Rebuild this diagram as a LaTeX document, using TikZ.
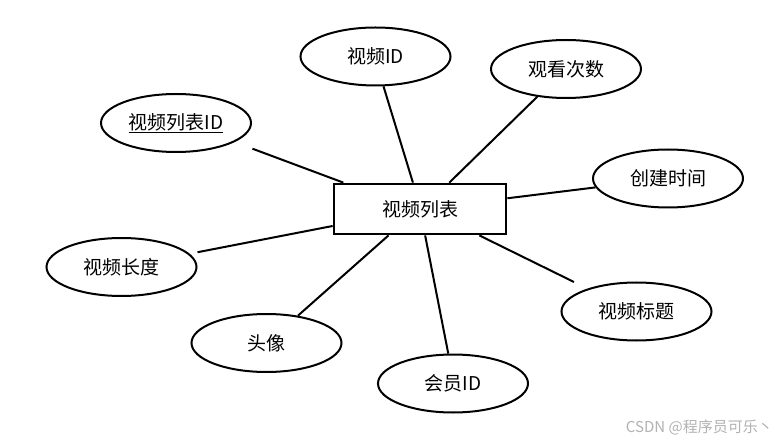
\documentclass[tikz,border=0pt]{standalone}
\usepackage{fontspec}
\setmainfont{Noto Sans CJK SC}
\usetikzlibrary{shapes.geometric}
\begin{document}
\begin{tikzpicture}[x=1pt,y=-1pt,
  attr/.style={ellipse, draw, line width=2pt, minimum width=150pt, minimum height=58pt, inner sep=0pt, font=\fontsize{19}{22}\selectfont},
  ent/.style={rectangle, draw, line width=2.8pt, minimum width=172pt, minimum height=50pt, inner sep=0pt, font=\fontsize{19}{22}\selectfont},
  link/.style={line width=2pt}]
\useasboundingbox[fill=white] (0,0) rectangle (776,438);
\node[ent] (e) at (420,209) {视频列表};
\node[attr] (vid) at (375.5,56.5) {视频ID};
\node[attr] (cnt) at (566,69) {观看次数};
\node[attr] (lid) at (176,123) {\underline{视频列表ID}};
\node[attr] (ct) at (668,178.5) {创建时间};
\node[attr] (len) at (121.5,267) {视频长度};
\node[attr] (tit) at (636.5,311.5) {视频标题};
\node[attr] (ava) at (266.5,343) {头像};
\node[attr] (mem) at (453,383.5) {会员ID};
\draw[link] (vid.-75) -- (e.105);
\draw[link] (cnt.-136) -- (e.42);
\draw[link,shorten <=19pt] (lid.-18.5) -- (e.161);
\draw[link] (ct.-173) -- (e.7);
\draw[link,shorten <=8pt] (len.11) -- (e.-169);
\draw[link] (ava.41) -- (e.-140);
\draw[link] (mem.99) -- (e.-79);
\draw[link,shorten <=15pt] (tit.155) -- (e.-24.5);
\node[anchor=east, text=black!30, font=\fontsize{15}{17}\selectfont, inner sep=0pt] (wm) at (773,427) {CSDN @程序员可乐丶};
\end{tikzpicture}
\end{document}
